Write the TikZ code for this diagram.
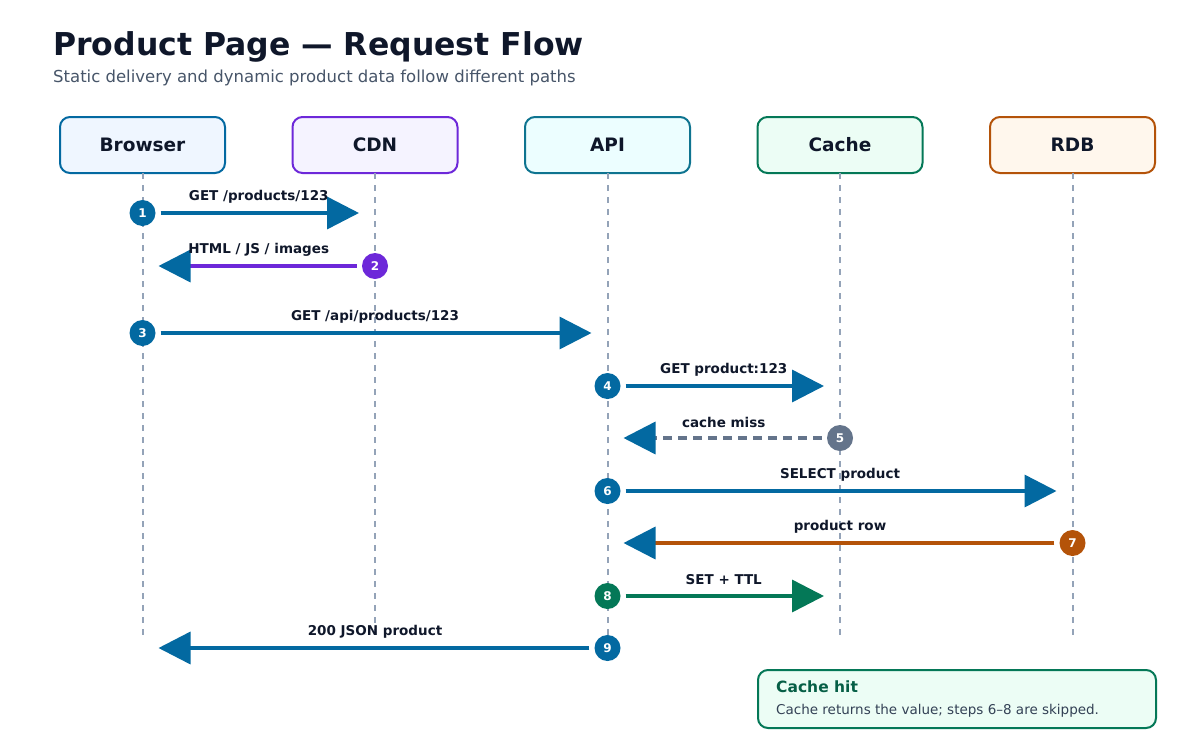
\documentclass[tikz,border=0pt]{standalone}
\usepackage{fontspec}
\setmainfont{DejaVu Sans}
\usetikzlibrary{positioning,arrows.meta,calc}

\definecolor{ink}{HTML}{0F172A}
\definecolor{subgray}{HTML}{475569}
\definecolor{bodygray}{HTML}{334155}
\definecolor{lifegray}{HTML}{94A3B8}
\definecolor{flowblue}{HTML}{0369A1}
\definecolor{cdnpurple}{HTML}{6D28D9}
\definecolor{apiteal}{HTML}{0E7490}
\definecolor{cachegreen}{HTML}{047857}
\definecolor{hitgreen}{HTML}{065F46}
\definecolor{dborange}{HTML}{B45309}
\definecolor{missgray}{HTML}{64748B}
\definecolor{browserfill}{HTML}{EFF6FF}
\definecolor{cdnfill}{HTML}{F5F3FF}
\definecolor{apifill}{HTML}{ECFEFF}
\definecolor{cachefill}{HTML}{ECFDF5}
\definecolor{dbfill}{HTML}{FFF7ED}

\tikzset{
  actor/.style={rounded corners=10pt, line width=2pt, minimum width=165pt, minimum height=56pt,
    outer sep=0pt, text=ink, font=\bfseries\fontsize{18.5}{22}\selectfont},
  lifeline/.style={draw=lifegray, line width=2pt, dash pattern=on 6pt off 6pt},
  stepdot/.style={circle, inner sep=0pt, minimum size=26pt, text=white,
    font=\bfseries\fontsize{12}{14}\selectfont},
  msg/.style={line width=3.5pt, draw=#1, shorten <=5pt, shorten >=16pt,
    -{Triangle[length=32pt,width=32pt,color=flowblue]}},
  msg/.default=flowblue,
  msglabel/.style={text=ink, inner sep=0pt, yshift=16pt, font=\bfseries\fontsize{13.5}{16}\selectfont},
  plain/.style={anchor=base west, inner sep=0pt}
}

\begin{document}
\begin{tikzpicture}[x=1pt, y=-1pt]
    \useasboundingbox[fill=white] (0,0) rectangle (1200,750);

    % heading
    \node[plain, text=ink, font=\bfseries\fontsize{31.5}{38}\selectfont] (title) at (53,55) {Product Page — Request Flow};
    \node[plain, text=subgray, font=\fontsize{16.5}{20}\selectfont] (subtitle) at (53,82) {Static delivery and dynamic product data follow different paths};

    % participants
    \node[actor, draw=flowblue, fill=browserfill] (browser) at (142.5,145) {Browser};
    \node[actor, draw=cdnpurple, fill=cdnfill, right=67.5pt of browser] (cdn) {CDN};
    \node[actor, draw=apiteal, fill=apifill, right=67.5pt of cdn] (api) {API};
    \node[actor, draw=cachegreen, fill=cachefill, right=67.5pt of api] (cache) {Cache};
    \node[actor, draw=dborange, fill=dbfill, right=67.5pt of cache] (rdb) {RDB};

    \foreach \p in {browser,cdn,api,cache,rdb}
      \draw[lifeline] (\p.south) -- (\p.south |- 0,637);

    % 1
    \node[stepdot, fill=flowblue] (s1) at (browser |- 0,213) {1};
    \coordinate (t1) at (cdn |- s1);
    \draw[msg] (s1) -- (t1);
    \node[msglabel] at ($(s1)!.5!(t1)$) {GET /products/123};
    % 2
    \node[stepdot, fill=cdnpurple] (s2) at (cdn |- 0,266) {2};
    \coordinate (t2) at (browser |- s2);
    \draw[msg=cdnpurple] (s2) -- (t2);
    \node[msglabel] at ($(s2)!.5!(t2)$) {HTML / JS / images};
    % 3
    \node[stepdot, fill=flowblue] (s3) at (browser |- 0,333) {3};
    \coordinate (t3) at (api |- s3);
    \draw[msg] (s3) -- (t3);
    \node[msglabel] at ($(s3)!.5!(t3)$) {GET /api/products/123};
    % 4
    \node[stepdot, fill=flowblue] (s4) at (api |- 0,386) {4};
    \coordinate (t4) at (cache |- s4);
    \draw[msg] (s4) -- (t4);
    \node[msglabel] at ($(s4)!.5!(t4)$) {GET product:123};
    % 5
    \node[stepdot, fill=missgray] (s5) at (cache |- 0,438) {5};
    \coordinate (t5) at (api |- s5);
    \draw[msg=missgray, dash pattern=on 9pt off 6pt] (s5) -- (t5);
    \node[msglabel] at ($(s5)!.5!(t5)$) {cache miss};
    % 6
    \node[stepdot, fill=flowblue] (s6) at (api |- 0,491) {6};
    \coordinate (t6) at (rdb |- s6);
    \draw[msg] (s6) -- (t6);
    \node[msglabel] at ($(s6)!.5!(t6)$) {SELECT product};
    % 7
    \node[stepdot, fill=dborange] (s7) at (rdb |- 0,543) {7};
    \coordinate (t7) at (api |- s7);
    \draw[msg=dborange] (s7) -- (t7);
    \node[msglabel] at ($(s7)!.5!(t7)$) {product row};
    % 8
    \node[stepdot, fill=cachegreen] (s8) at (api |- 0,596) {8};
    \coordinate (t8) at (cache |- s8);
    \draw[msg=cachegreen, -{Triangle[length=32pt,width=32pt]}] (s8) -- (t8);
    \node[msglabel] at ($(s8)!.5!(t8)$) {SET + TTL};
    % 9
    \node[stepdot, fill=flowblue] (s9) at (api |- 0,648) {9};
    \coordinate (t9) at (browser |- s9);
    \draw[msg] (s9) -- (t9);
    \node[msglabel] at ($(s9)!.5!(t9)$) {200 JSON product};

    % note
    \node[draw=cachegreen, fill=cachefill, line width=2pt, rounded corners=10pt, anchor=north west,
      minimum width=398pt, minimum height=58pt] (hit) at (757,669) {};
    \node[plain, text=hitgreen, font=\bfseries\fontsize{15.5}{19}\selectfont] (hittitle) at (776,692) {Cache hit};
    \node[plain, text=bodygray, font=\fontsize{13.5}{16}\selectfont] (hittext) at (776,714) {Cache returns the value; steps 6–8 are skipped.};
\end{tikzpicture}
\end{document}
